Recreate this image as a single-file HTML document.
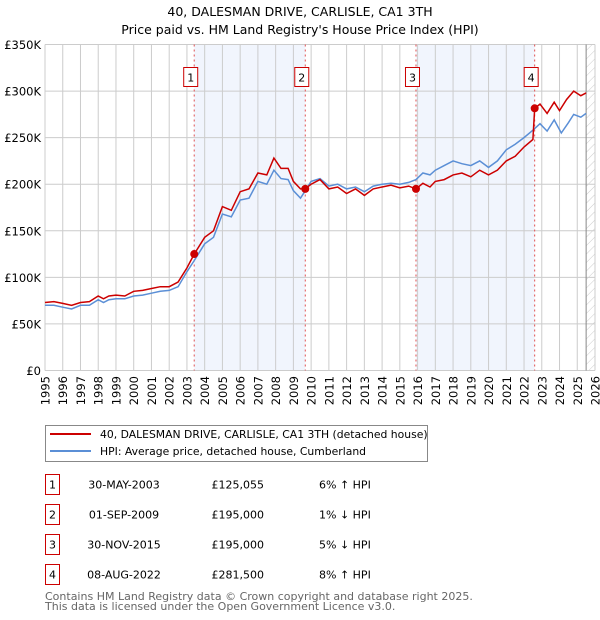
<!DOCTYPE html>
<html><head><meta charset="utf-8"><style>
body{margin:0;background:#fff;}
svg{display:block;font-family:"DejaVu Sans","Liberation Sans",sans-serif;}
</style></head><body>
<svg id="c" width="600" height="620" xmlns="http://www.w3.org/2000/svg">
<defs><pattern id="hatch" width="6" height="6" patternUnits="userSpaceOnUse" patternTransform="rotate(45)"><line x1="0" y1="0" x2="0" y2="6" stroke="#ccc" stroke-width="1"/></pattern></defs>
<text x="300" y="16" text-anchor="middle" font-size="12.5">40, DALESMAN DRIVE, CARLISLE, CA1 3TH</text>
<text x="300" y="34" text-anchor="middle" font-size="12.5">Price paid vs. HM Land Registry's House Price Index (HPI)</text>
<g id="plot"></g>
<g>
<rect x="45.5" y="425.5" width="382" height="36" fill="#fff" stroke="#888"/>
<line x1="50" y1="434" x2="91" y2="434" stroke="#cc0000" stroke-width="2"/>
<text x="100" y="438" font-size="10.8">40, DALESMAN DRIVE, CARLISLE, CA1 3TH (detached house)</text>
<line x1="50" y1="451" x2="91" y2="451" stroke="#5b8fd6" stroke-width="2"/>
<text x="100" y="455" font-size="10.8">HPI: Average price, detached house, Cumberland</text>
</g>
<g id="table" font-size="11"></g>
<text x="45" y="600" font-size="11" fill="#666">Contains HM Land Registry data © Crown copyright and database right 2025.</text>
<text x="45" y="610" font-size="11" fill="#666">This data is licensed under the Open Government Licence v3.0.</text>
</svg>
<script>
const yTicks=[0,50,100,150,200,250,300,350];
const yTickLabels=["£0","£50K","£100K","£150K","£200K","£250K","£300K","£350K"];
const years=[1995,1996,1997,1998,1999,2000,2001,2002,2003,2004,2005,2006,2007,2008,2009,2010,2011,2012,2013,2014,2015,2016,2017,2018,2019,2020,2021,2022,2023,2024,2025,2026];
const saleDates=[2003.41,2009.67,2015.91,2022.60];
const salePrices=[125.055,195,195,281.5];
const saleLabels=["1","2","3","4"];
const saleDateText=["30-MAY-2003","01-SEP-2009","30-NOV-2015","08-AUG-2022"];
const salePriceText=["£125,055","£195,000","£195,000","£281,500"];
const saleHpiText=["6% ↑ HPI","1% ↓ HPI","5% ↓ HPI","8% ↑ HPI"];
const redT=[1995,1995.5,1996,1996.5,1997,1997.5,1998,1998.3,1998.6,1999,1999.5,2000,2000.5,2001,2001.5,2002,2002.5,2003,2003.41,2004,2004.5,2005,2005.5,2006,2006.5,2007,2007.5,2007.9,2008.3,2008.7,2009,2009.4,2009.67,2010,2010.5,2011,2011.5,2012,2012.5,2013,2013.5,2014,2014.5,2015,2015.5,2015.91,2016.3,2016.7,2017,2017.5,2018,2018.5,2019,2019.5,2020,2020.5,2021,2021.5,2022,2022.5,2022.6,2022.9,2023.3,2023.7,2024.0,2024.4,2024.8,2025.2,2025.5];
const redV=[73,74,72,70,73,74,80,77,80,81,80,85,86,88,90,90,95,110,125,143,150,176,172,192,195,212,210,228,217,217,203,195,195,200,205,195,197,190,195,188,195,197,199,196,198,195,201,197,203,205,210,212,208,215,210,215,225,230,240,248,281.5,286,276,288,279,291,300,295,298];
const blueT=[1995,1995.5,1996,1996.5,1997,1997.5,1998,1998.3,1998.6,1999,1999.5,2000,2000.5,2001,2001.5,2002,2002.5,2003,2003.41,2004,2004.5,2005,2005.5,2006,2006.5,2007,2007.5,2007.9,2008.3,2008.7,2009,2009.4,2009.67,2010,2010.5,2011,2011.5,2012,2012.5,2013,2013.5,2014,2014.5,2015,2015.5,2015.91,2016.3,2016.7,2017,2017.5,2018,2018.5,2019,2019.5,2020,2020.5,2021,2021.5,2022,2022.5,2022.9,2023.3,2023.7,2024.1,2024.5,2024.8,2025.2,2025.5];
const blueV=[70,70,68,66,70,70,76,73,76,77,77,80,81,83,85,86,90,106,118,136,143,168,165,183,185,203,200,215,206,205,193,185,193,203,206,198,200,195,197,192,198,200,201,200,202,205,212,210,215,220,225,222,220,225,218,225,237,243,250,258,265,257,269,255,266,275,272,276];
const L=45,R=595,T=44.5,B=370.5;
const x=v=>L+(v-1995)/(2026-1995)*(R-L);
const y=v=>B-v/350*(B-T);
const NS="http://www.w3.org/2000/svg";
const plot=document.getElementById('plot');
function mk(tag,attrs,parent){const e=document.createElementNS(NS,tag);for(const k in attrs)e.setAttribute(k,attrs[k]);(parent||plot).appendChild(e);return e;}
for(let i=0;i<saleDates.length-1;i+=2){
 const r=mk('rect',{x:x(saleDates[i]),y:T,width:x(saleDates[i+1])-x(saleDates[i]),height:B-T,fill:'#eef3fc',opacity:0.8});
 
 
}
const h=mk('rect',{x:x(2025.5),y:T,width:R-x(2025.5),height:B-T,fill:'url(#hatch)'});


years.forEach(yr=>{
 const g=mk('line',{x1:x(yr),x2:x(yr),y1:T,y2:B,stroke:'#ccc','stroke-width':1});
 
 
 const t=mk('text',{x:0,y:0,'font-size':11.5,'text-anchor':'end',transform:`translate(${x(yr)+4.5},376) rotate(-90)`});
 t.textContent=yr;
 
 
});
yTicks.forEach((v,i)=>{
 const g=mk('line',{x1:L,x2:R,y1:y(v),y2:y(v),stroke:'#ccc','stroke-width':1});
 
 
 const t=mk('text',{x:L-4,y:y(v)+4.5,'font-size':11.5,'text-anchor':'end'});
 t.textContent=yTickLabels[i];
 
 
});
const vl=mk('line',{x1:x(2025.5),x2:x(2025.5),y1:T,y2:B,stroke:'#888','stroke-width':1});


saleDates.forEach((d,i)=>{
 const l=mk('line',{x1:x(d),x2:x(d),y1:T,y2:B,stroke:'#e05050','stroke-width':1,'stroke-dasharray':'2,3'});
 
 
});
const path=(ts,vs)=>ts.map((t,i)=>(i?'L':'M')+x(t).toFixed(1)+','+y(vs[i]).toFixed(1)).join('');
const bl=mk('path',{d:path(blueT,blueV),fill:'none',stroke:'#5b8fd6','stroke-width':1.5});


const rl=mk('path',{d:path(redT,redV),fill:'none',stroke:'#cc0000','stroke-width':1.5});


saleDates.forEach((d,i)=>{
 const c=mk('circle',{cx:x(d),cy:y(salePrices[i]),r:4,fill:'#cc0000'});
 
 
 const bx=mk('rect',{x:x(d)-10.5,y:67.5,width:14,height:19,fill:'#fff',stroke:'#cc0000'});
 
 
 const t=mk('text',{x:x(d)-3.5,y:81.5,'font-size':11,'text-anchor':'middle'});
 t.textContent=saleLabels[i];
 
 
});
const tb=document.getElementById('table');
saleDates.forEach((d,i)=>{
 const cy=483+i*30;
 const b=mk('rect',{x:45.5,y:cy-8.5,width:14,height:20,fill:'#fff',stroke:'#cc0000'},tb);
 
 
 const n=mk('text',{x:52.5,y:cy+5.5,'text-anchor':'middle'},tb);n.textContent=saleLabels[i];
 
 
 const a=mk('text',{x:124,y:cy+5.5,'text-anchor':'middle'},tb);a.textContent=saleDateText[i];
 
 
 const p=mk('text',{x:264,y:cy+5.5,'text-anchor':'end'},tb);p.textContent=salePriceText[i];
 
 
 const q=mk('text',{x:319,y:cy+5.5},tb);q.textContent=saleHpiText[i];
 
 
});
</script>
</body></html>
